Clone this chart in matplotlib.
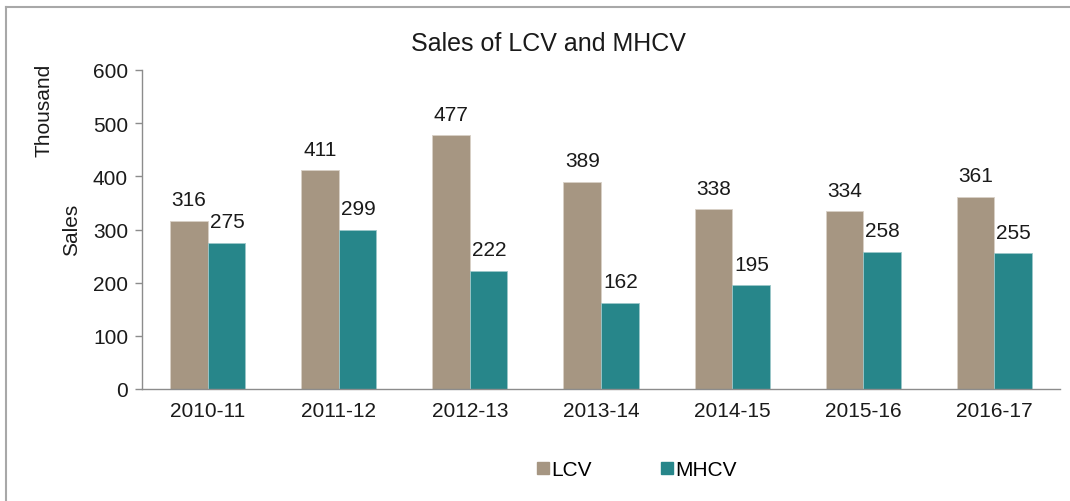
import matplotlib
matplotlib.use("Agg")
import matplotlib.pyplot as plt
from matplotlib.lines import Line2D
import numpy as np

plt.rcParams['font.family'] = ['Liberation Sans', 'DejaVu Sans']

# Donnees (en milliers)
annees = ['2010-11', '2011-12', '2012-13', '2013-14', '2014-15', '2015-16', '2016-17']
lcv = [316, 411, 477, 389, 338, 334, 361]
mhcv = [275, 299, 222, 162, 195, 258, 255]

col_lcv = '#A69682'
col_mhcv = '#27868A'
fs = 15

fig = plt.figure(figsize=(10.70, 5.02), dpi=100)
ax = fig.add_axes([142/1070, 1-390/502, (1060-142)/1070, (390-71)/502])

x = np.arange(len(annees))
w = 0.286
ax.bar(x - w/2, lcv, w, color=col_lcv, edgecolor='#D8D0C6', linewidth=0.6)
ax.bar(x + w/2, mhcv, w, color=col_mhcv, edgecolor='#9CC7C9', linewidth=0.6)

# etiquettes de valeurs
for xi, v in zip(x, lcv):
    ax.text(xi - w/2, v + 22, str(v), ha='center', va='bottom', fontsize=fs, color='#1A1A1A')
for xi, v in zip(x, mhcv):
    ax.text(xi + w/2 + 0.005, v + 22, str(v), ha='center', va='bottom', fontsize=fs, color='#1A1A1A')

ax.set_xlim(-0.5, len(annees) - 0.5)
ax.set_ylim(0, 600)
ax.set_yticks(range(0, 601, 100))
ax.set_xticks(x)
ax.set_xticklabels(annees)

for s in ['top', 'right']:
    ax.spines[s].set_visible(False)
for s in ['left', 'bottom']:
    ax.spines[s].set_color('#8C8C8C')
    ax.spines[s].set_linewidth(1.0)
ax.tick_params(axis='y', length=5, width=1, color='#8C8C8C', labelsize=fs, pad=5, labelcolor='#1A1A1A')
ax.tick_params(axis='x', length=0, labelsize=fs, pad=9, labelcolor='#1A1A1A')

fig.text(548/1070, 1-44/502, 'Sales of LCV and MHCV', ha='center', va='center', fontsize=18, color='#1A1A1A')
fig.text(44/1070, 1-110/502, 'Thousand', rotation=90, ha='center', va='center', fontsize=fs, color='#1A1A1A')
fig.text(72/1070, 1-230/502, 'Sales', rotation=90, ha='center', va='center', fontsize=fs, color='#1A1A1A')

# legende
handles = [Line2D([], [], marker='s', linestyle='none', markersize=8, color=col_lcv),
           Line2D([], [], marker='s', linestyle='none', markersize=8, color=col_mhcv)]
fig.legend(handles, ['LCV', 'MHCV'], loc='center', bbox_to_anchor=(636/1070, 1-471/502),
           ncol=2, frameon=False, fontsize=fs, handletextpad=0.0, columnspacing=3.2,
           handlelength=0.8)

# cadre autour du graphique (bord haut et bord gauche)
fig.add_artist(Line2D([6/1070, 1.0], [1-8/502, 1-8/502], transform=fig.transFigure,
                      color='#A8A8A8', linewidth=1.5))
fig.add_artist(Line2D([6/1070, 6/1070], [0, 1-8/502], transform=fig.transFigure,
                      color='#A8A8A8', linewidth=1.5))

fig.savefig('out.png', dpi=100)
